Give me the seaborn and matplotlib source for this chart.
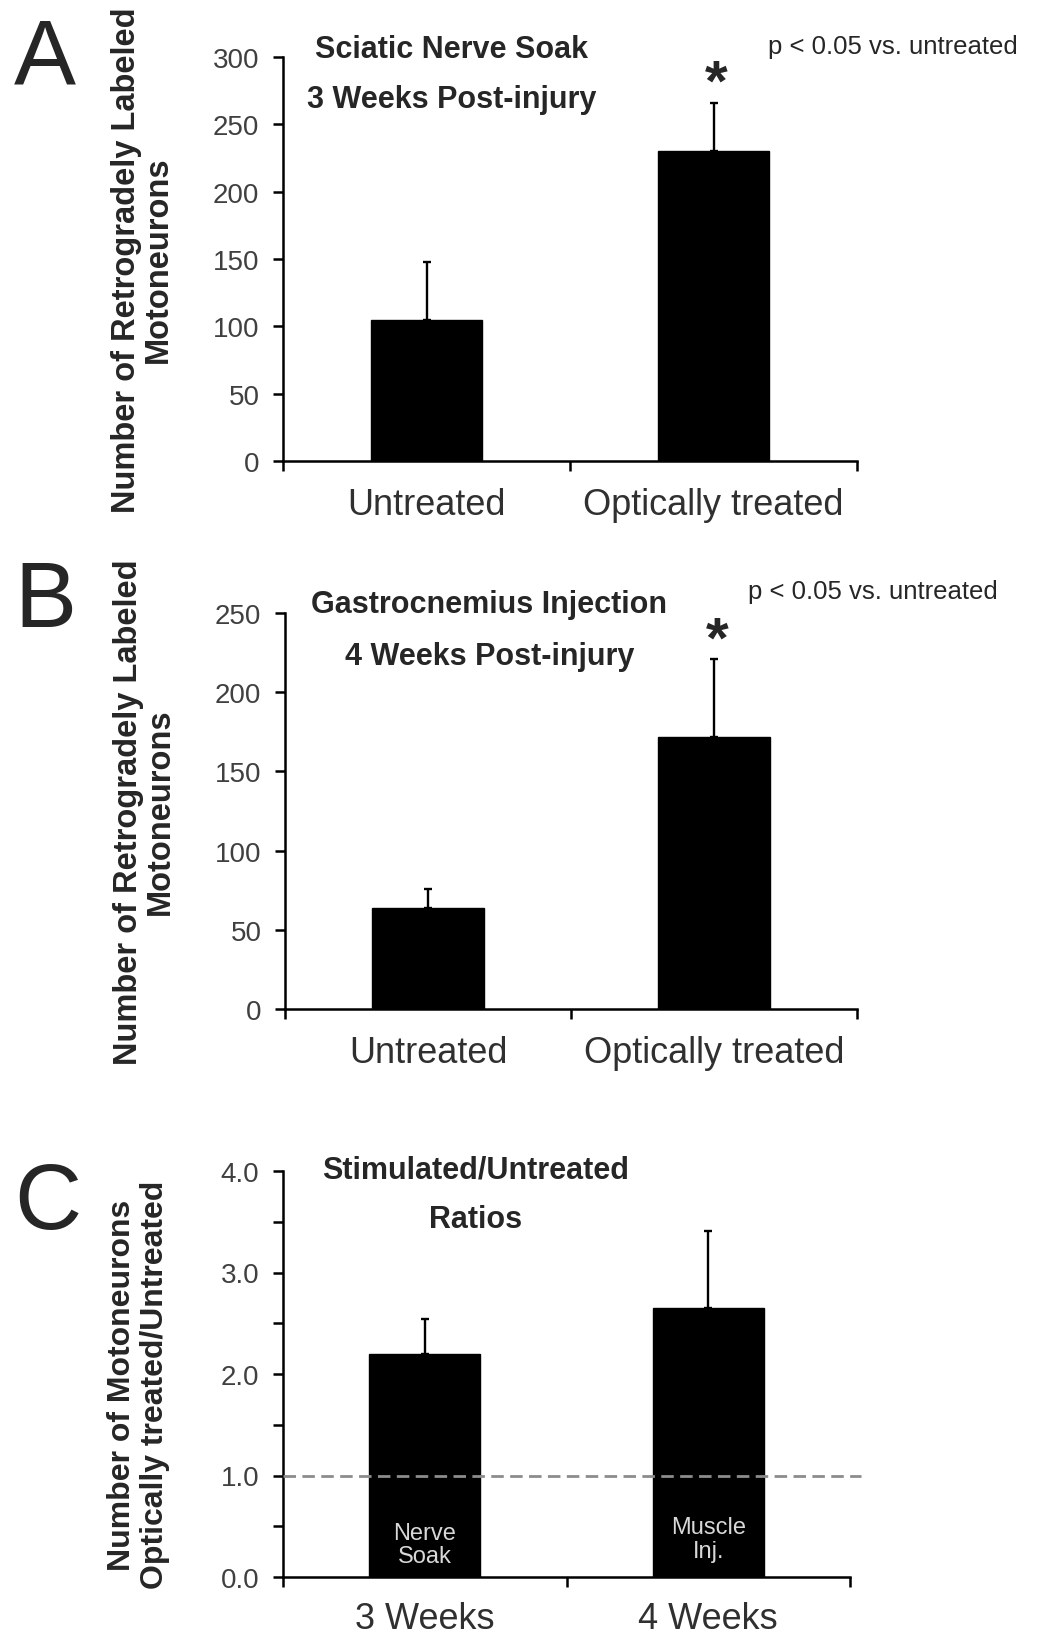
import numpy as np
import pandas as pd
import matplotlib
matplotlib.use("Agg")
import matplotlib.pyplot as plt
from matplotlib.ticker import MultipleLocator, FormatStrFormatter
import seaborn as sns

# ---------------- data ----------------
groups_ab = ["Untreated", "Optically treated"]
a_means = [105, 230]
a_sem = [43, 36]
b_means = [64, 172]
b_sem = [12, 49]

groups_c = ["3 Weeks", "4 Weeks"]
c_means = [2.20, 2.65]
c_sem = [0.34, 0.76]
c_notes = ["Nerve\nSoak", "Muscle\nInj."]
c_note_y = [0.32, 0.375]
reference_ratio = 1.0

a_title = "Sciatic Nerve Soak"
a_sub = "3 Weeks Post-injury"
b_title = "Gastrocnemius Injection"
b_sub = "4 Weeks Post-injury"
c_title = "Stimulated/Untreated"
c_sub = "Ratios"
p_note = "p < 0.05 vs. untreated"
ylabel_ab = "Number of Retrogradely Labeled\nMotoneurons"
ylabel_c = "Number of Motoneurons\nOptically treated/Untreated"

# ---------------- style ----------------
sns.set_style("ticks")
plt.rcParams["font.family"] = ["Liberation Sans", "DejaVu Sans"]

W, H = 1042, 1640
fig = plt.figure(figsize=(W / 100, H / 100), dpi=100)

def rect(left, right, top, bottom):
    return [left / W, 1 - bottom / H, (right - left) / W, (bottom - top) / H]

axA = fig.add_axes(rect(283, 857, 58, 462))
axB = fig.add_axes(rect(285, 857, 614, 1010))
axC = fig.add_axes(rect(283, 850, 1172, 1578))

TICK_COL = "#404040"

def draw(ax, cats, means, sems):
    df = pd.DataFrame({"group": cats, "value": means})
    sns.barplot(data=df, x="group", y="value", color="black", saturation=1,
                width=0.39, edgecolor="black", ax=ax, zorder=2)
    ax.errorbar(np.arange(len(cats)), means, yerr=[np.zeros(len(cats)), sems],
                fmt="none", ecolor="black", elinewidth=1.7, capsize=3,
                capthick=1.7, zorder=1)
    sns.despine(ax=ax)
    for s in ("left", "bottom"):
        ax.spines[s].set_linewidth(1.8)
        ax.spines[s].set_color("black")
    ax.set_xlim(-0.5, len(cats) - 0.5)
    ax.set_xticks(np.arange(-0.5, len(cats)), minor=True)
    ax.set_xlabel("")
    ax.tick_params(axis="x", which="major", length=0, pad=19, labelsize=26,
                   labelcolor="#303030")
    ax.tick_params(axis="x", which="minor", length=7, width=1.8,
                   direction="out", color="black")
    ax.tick_params(axis="y", which="both", length=7, width=1.8,
                   direction="out", pad=10, labelsize=20, labelcolor=TICK_COL,
                   color="black")

# ---- Panel A ----
draw(axA, groups_ab, a_means, a_sem)
axA.set_ylim(0, 300)
axA.yaxis.set_major_locator(MultipleLocator(50))
axA.set_ylabel(ylabel_ab, fontsize=23.5, fontweight="bold", linespacing=1.05)
axA.yaxis.set_label_coords(-0.19, 0.5)
axA.text(0.294, 1.02, a_title, transform=axA.transAxes, ha="center",
         va="center", fontsize=22, fontweight="bold")
axA.text(0.294, 0.896, a_sub, transform=axA.transAxes, ha="center",
         va="center", fontsize=22, fontweight="bold")
axA.text(0.845, 1.027, p_note, transform=axA.transAxes, ha="left",
         va="center", fontsize=18.5)
axA.annotate("*", xy=(1, a_means[1] + a_sem[1]), xytext=(2, 2),
             textcoords="offset points", ha="center", va="baseline",
             fontsize=42, fontweight="bold", annotation_clip=False)

# ---- Panel B ----
draw(axB, groups_ab, b_means, b_sem)
axB.set_ylim(0, 250)
axB.yaxis.set_major_locator(MultipleLocator(50))
axB.set_ylabel(ylabel_ab, fontsize=23.5, fontweight="bold", linespacing=1.05)
axB.yaxis.set_label_coords(-0.19, 0.5)
axB.text(0.357, 1.023, b_title, transform=axB.transAxes, ha="center",
         va="center", fontsize=22, fontweight="bold")
axB.text(0.357, 0.891, b_sub, transform=axB.transAxes, ha="center",
         va="center", fontsize=22, fontweight="bold")
axB.text(0.81, 1.056, p_note, transform=axB.transAxes, ha="left",
         va="center", fontsize=18.5)
axB.annotate("*", xy=(1, b_means[1] + b_sem[1]), xytext=(2, 2),
             textcoords="offset points", ha="center", va="baseline",
             fontsize=42, fontweight="bold", annotation_clip=False)

# ---- Panel C ----
draw(axC, groups_c, c_means, c_sem)
axC.set_ylim(0, 4)
axC.yaxis.set_major_locator(MultipleLocator(1))
axC.yaxis.set_minor_locator(MultipleLocator(0.5))
axC.yaxis.set_major_formatter(FormatStrFormatter("%.1f"))
axC.tick_params(axis="x", which="major", pad=17)
axC.axhline(reference_ratio, xmin=0, xmax=1.02, color="#8c8c8c", lw=2,
            ls=(0, (4.5, 2.3)), clip_on=False, zorder=4)
axC.set_ylabel(ylabel_c, fontsize=23, fontweight="bold", linespacing=1.12)
axC.yaxis.set_label_coords(-0.2, 0.475)
axC.text(0.339, 1.004, c_title, transform=axC.transAxes, ha="center",
         va="center", fontsize=22, fontweight="bold")
axC.text(0.339, 0.881, c_sub, transform=axC.transAxes, ha="center",
         va="center", fontsize=22, fontweight="bold")
for i, (note, ny) in enumerate(zip(c_notes, c_note_y)):
    axC.text(i, ny, note, ha="center", va="center", color="#d8d8d8",
             fontsize=17, linespacing=1.1, zorder=5)

# ---- panel letters ----
for letter, base_y in (("A", 85), ("B", 627), ("C", 1229)):
    fig.text(14 / W, 1 - base_y / H, letter, fontsize=67, ha="left",
             va="baseline")

fig.savefig("out.png", dpi=100)
